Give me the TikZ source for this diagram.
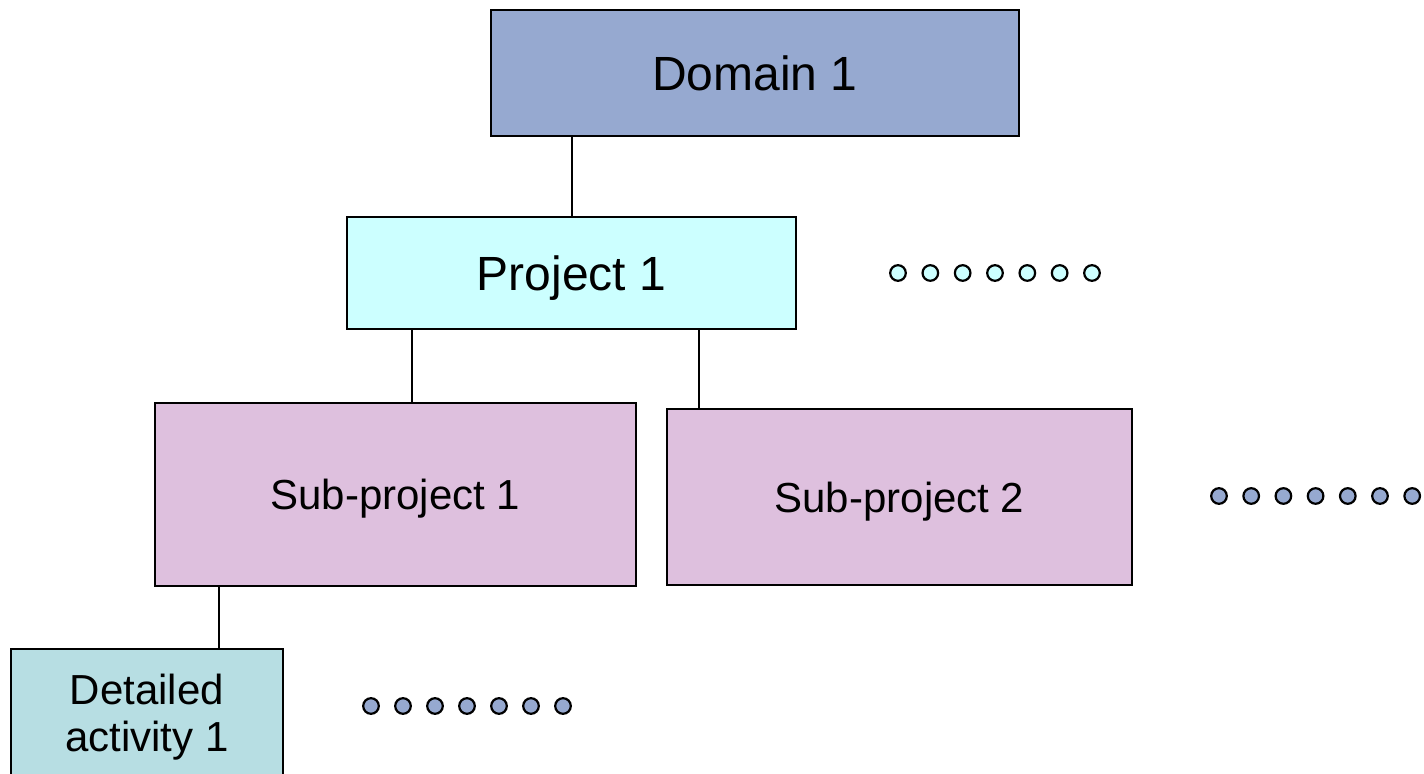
\documentclass[tikz,border=0pt]{standalone}
\usepackage{fontspec}
\setmainfont{Liberation Sans}
\definecolor{domfill}{HTML}{96A9D0}
\definecolor{projfill}{HTML}{CCFFFF}
\definecolor{subfill}{HTML}{DEC0DE}
\definecolor{detfill}{HTML}{B7DEE3}
\tikzset{
  box/.style={draw=black, line width=1pt, rectangle, inner sep=0pt, text depth=0pt, align=center},
  conn/.style={draw=black, line width=0.8pt},
  dotnode/.style={draw=black, line width=1.1pt, circle, inner sep=0pt, minimum size=7.8pt},
  bigtext/.style={font=\fontsize{24}{28}\selectfont},
  smalltext/.style={font=\fontsize{21}{23.5}\selectfont},
}
\begin{document}
\begin{tikzpicture}[x=0.5pt, y=-0.5pt]
\useasboundingbox (0,0) rectangle (1424,774);
\clip (0,0) rectangle (1424,774);
% boxes
\node[box, bigtext, fill=domfill, minimum width=264pt, minimum height=63pt] (dom) at (755,73) {Domain 1};
\node[box, bigtext, fill=projfill, minimum width=224.5pt, minimum height=56pt] (proj) at (571.5,273) {Project 1};
\node[box, smalltext, fill=subfill, minimum width=240.5pt, minimum height=91.5pt] (sub1) at (395.5,494.5) {Sub-project 1};
\node[box, smalltext, fill=subfill, minimum width=232.5pt, minimum height=88pt] (sub2) at (899.5,497) {Sub-project 2};
\node[box, fill=detfill, minimum width=136pt, minimum height=75.5pt] (det) at (147,724.5) {};
\node[smalltext, align=center, inner sep=0pt, text depth=0pt] (detlabel) at (147,713) {Detailed\\activity 1};
% connectors
\coordinate (c1) at (572,0);
\coordinate (c2) at (412,0);
\coordinate (c3) at (699,0);
\coordinate (c4) at (219,0);
\draw[conn] (c1 |- dom.south) -- (c1 |- proj.north);
\draw[conn] (c2 |- proj.south) -- (c2 |- sub1.north);
\draw[conn] (c3 |- proj.south) -- (c3 |- sub2.north);
\draw[conn] (c4 |- sub1.south) -- (c4 |- det.north);
% dots
\foreach \i in {0,...,6} {
  \node[dotnode, fill=projfill] (da\i) at ({898+32.33*\i},273) {};
  \node[dotnode, fill=domfill] (db\i) at ({1219+32.2*\i},496) {};
  \node[dotnode, fill=domfill] (dc\i) at ({371+32*\i},706) {};
}
\end{tikzpicture}
\end{document}
